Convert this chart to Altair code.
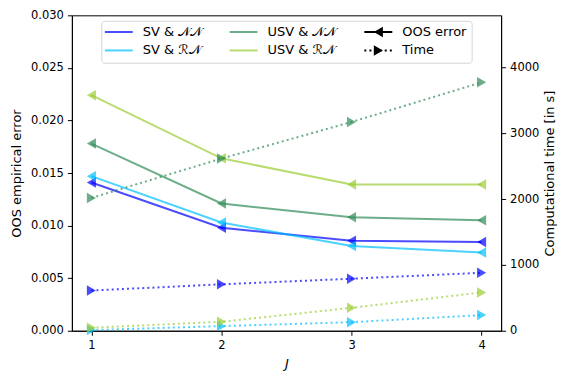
import altair as alt
import pandas as pd

J = [1, 2, 3, 4]
series = ["SV & 𝒩𝒩", "SV & ℛ𝒩", "USV & 𝒩𝒩", "USV & ℛ𝒩"]
colors = ["#0000ff", "#00bfff", "#2e8b57", "#9acd32"]
kinds = ["OOS error", "Time"]

err_sv_nn = [0.0141, 0.0098, 0.00855, 0.00845]
err_sv_rn = [0.0147, 0.0103, 0.00805, 0.00745]
err_usv_nn = [0.0178, 0.0121, 0.0108, 0.0105]
err_usv_rn = [0.0224, 0.0164, 0.0139, 0.0139]

time_sv_nn = [610, 705, 790, 880]
time_sv_rn = [10, 70, 130, 238]
time_usv_nn = [2017, 2615, 3170, 3772]
time_usv_rn = [45, 137, 348, 582]

errs = [err_sv_nn, err_sv_rn, err_usv_nn, err_usv_rn]
times = [time_sv_nn, time_sv_rn, time_usv_nn, time_usv_rn]

err_df = pd.DataFrame([
    {"J": j, "series": s, "value": v}
    for s, vals in zip(series, errs) for j, v in zip(J, vals)
])
time_df = pd.DataFrame([
    {"J": j, "series": s, "value": v}
    for s, vals in zip(series, times) for j, v in zip(J, vals)
])

FONT = "DejaVu Sans"
MSIZE = 110
color_scale = alt.Scale(domain=series, range=colors)
x_scale = alt.Scale(domain=[0.85, 4.15], nice=False, zero=False)

axis_style = dict(labelFont=FONT, titleFont=FONT, labelFontSize=11.5, titleFontSize=13,
                  labelColor="black", titleColor="black", domainColor="black",
                  tickColor="black", titleFontWeight="normal", grid=False,
                  tickSize=4.5, labelPadding=4)

x_axis = alt.Axis(values=J, format="d", title="J", titleFontStyle="italic",
                  titlePadding=7, **axis_style)

base_err = alt.Chart(err_df).encode(
    x=alt.X("J:Q", scale=x_scale, axis=x_axis),
    y=alt.Y("value:Q", scale=alt.Scale(domain=[0, 0.03], nice=False, zero=False),
            axis=alt.Axis(values=[0, 0.005, 0.01, 0.015, 0.02, 0.025, 0.03],
                          format=".3f", title="OOS empirical error", orient="left",
                          titlePadding=7, **axis_style)),
    color=alt.Color("series:N", scale=color_scale, legend=None),
)
err_lines = base_err.mark_line(strokeWidth=2, opacity=0.7)
err_pts = base_err.mark_point(shape="triangle-left", filled=True, size=MSIZE, opacity=0.7)

base_time = alt.Chart(time_df).encode(
    x=alt.X("J:Q", scale=x_scale, axis=None),
    y=alt.Y("value:Q", scale=alt.Scale(domain=[0, 4790], nice=False, zero=False),
            axis=alt.Axis(values=[0, 1000, 2000, 3000, 4000], format="d",
                          title="Computational time [in s]", orient="right",
                          titleAngle=270, titleBaseline="top",
                          titlePadding=5, **axis_style)),
    color=alt.Color("series:N", scale=color_scale, legend=None),
)
time_lines = base_time.mark_line(strokeWidth=2, opacity=0.7, strokeDash=[2, 3.1])
time_pts = base_time.mark_point(shape="triangle-right", filled=True, size=MSIZE, opacity=0.7)

err_layer = alt.layer(err_lines, err_pts)
time_layer = alt.layer(time_lines, time_pts)

# ---- legend (drawn manually to match matplotlib layout) ----
leg_df = pd.DataFrame({"label": series, "color": colors, "i": range(len(series))})
leg_df["hx1"] = 33 + (leg_df["i"] // 2) * 125
leg_df["hx2"] = leg_df["hx1"] + 28
leg_df["tx"] = leg_df["hx1"] + 38
leg_df["y"] = 16.7 + (leg_df["i"] % 2) * 18.5

kind_df = pd.DataFrame({"label": kinds, "i": range(len(kinds))})
kind_df["hx1"] = 293
kind_df["hx2"] = 321
kind_df["hc"] = 307
kind_df["tx"] = 331
kind_df["y"] = 16.7 + kind_df["i"] * 18.5

nx = lambda f: alt.X(f, scale=None, axis=None)
ny = lambda f: alt.Y(f, scale=None, axis=None)

frame = alt.Chart(pd.DataFrame({"a": [0]})).mark_rect(
    fill="white", fillOpacity=0.8, stroke="#d6d6d6", strokeWidth=1, cornerRadius=3
).encode(x=alt.value(30), x2=alt.value(401), y=alt.value(6), y2=alt.value(48))

leg_lines = alt.Chart(leg_df).mark_rule(strokeWidth=2, opacity=0.7).encode(
    x=nx("hx1:Q"), x2="hx2:Q", y=ny("y:Q"),
    stroke=alt.Color("color:N", scale=None),
)
leg_text = alt.Chart(leg_df).mark_text(align="left", baseline="middle", fontSize=13,
                                       font=FONT, color="black").encode(
    x=nx("tx:Q"), y=ny("y:Q"), text="label:N")

kind_solid = alt.Chart(kind_df).transform_filter("datum.i == 0").mark_rule(
    strokeWidth=2, color="black").encode(x=nx("hx1:Q"), x2="hx2:Q", y=ny("y:Q"))
kind_dot = alt.Chart(kind_df).transform_filter("datum.i == 1").mark_rule(
    strokeWidth=2, color="black", strokeDash=[2, 3.1]).encode(
    x=nx("hx1:Q"), x2="hx2:Q", y=ny("y:Q"))
kind_left = alt.Chart(kind_df).transform_filter("datum.i == 0").mark_point(
    shape="triangle-left", filled=True, size=MSIZE, color="black", opacity=1).encode(
    x=nx("hc:Q"), y=ny("y:Q"))
kind_right = alt.Chart(kind_df).transform_filter("datum.i == 1").mark_point(
    shape="triangle-right", filled=True, size=MSIZE, color="black", opacity=1).encode(
    x=nx("hc:Q"), y=ny("y:Q"))
kind_text = alt.Chart(kind_df).mark_text(align="left", baseline="middle", fontSize=13,
                                         font=FONT, color="black").encode(
    x=nx("tx:Q"), y=ny("y:Q"), text="label:N")

legend_layer = alt.layer(frame, leg_lines, leg_text, kind_solid, kind_dot,
                         kind_left, kind_right, kind_text)

chart = alt.layer(err_layer, time_layer, legend_layer).resolve_scale(
    x="independent", y="independent"
).properties(
    width=430, height=316,
    background="white",
    autosize=alt.AutoSizeParams(type="none"),
    padding={"left": 64, "top": 7, "right": 62, "bottom": 40},
).configure_view(
    stroke="black", strokeWidth=1
)

chart.save("out.html", embed_options={"renderer": "svg", "actions": False})
